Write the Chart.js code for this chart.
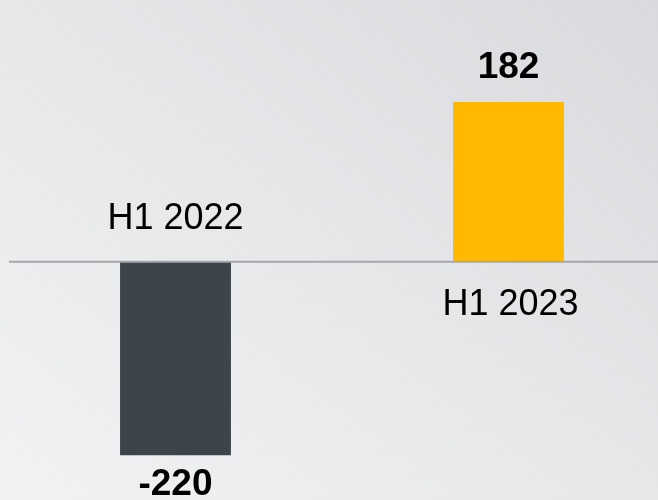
<!DOCTYPE html>
<html>
<head>
<meta charset="utf-8">
<script src="https://cdn.jsdelivr.net/npm/chart.js@4/dist/chart.umd.min.js"></script>
<style>
  html, body { margin: 0; padding: 0; overflow: hidden; }
  body {
    width: 658px; height: 500px;
    background: linear-gradient(to top right, #f2f2f3 0%, #e6e7e9 50%, #d9dadd 100%);
  }
  #wrap { width: 676px; height: 500px; position: relative; }
</style>
</head>
<body>
<div id="wrap"><canvas id="c"></canvas></div>
<script>
const categories = ['H1 2022', 'H1 2023'];
const values = [-220, 182];
const valueLabels = ['-220', '182'];
const barColors = ['#3d454c', '#ffb900'];

// value labels beyond bar end, category labels on the other side of zero
const labelPlugin = {
  id: 'labels',
  afterDatasetsDraw(chart) {
    const { ctx, scales: { x, y }, chartArea } = chart;
    const zero = y.getPixelForValue(0);
    ctx.save();
    ctx.strokeStyle = '#a3a6ab';
    ctx.lineWidth = 2;
    ctx.beginPath();
    ctx.moveTo(chartArea.left, zero);
    ctx.lineTo(chartArea.right, zero);
    ctx.stroke();

    ctx.fillStyle = '#000';
    ctx.textAlign = 'center';
    values.forEach((v, i) => {
      const cx = x.getPixelForValue(i);
      const end = y.getPixelForValue(v);
      ctx.font = 'bold 37px "Liberation Sans", Arial, sans-serif';
      if (v >= 0) {
        ctx.textBaseline = 'bottom';
        ctx.fillText(valueLabels[i], cx, end - 16);
      } else {
        ctx.textBaseline = 'top';
        ctx.fillText(valueLabels[i], cx, end + 11);
      }
      ctx.font = '36px "Liberation Sans", Arial, sans-serif';
      if (v >= 0) {
        ctx.textBaseline = 'top';
        ctx.fillText(categories[i], cx + 2, zero + 25);
      } else {
        ctx.textBaseline = 'bottom';
        ctx.fillText(categories[i], cx, zero - 25);
      }
    });
    ctx.restore();
  }
};

new Chart(document.getElementById('c'), {
  type: 'bar',
  data: {
    labels: categories,
    datasets: [{
      data: values,
      backgroundColor: barColors,
      borderWidth: 0,
      barPercentage: 1,
      categoryPercentage: 0.333
    }]
  },
  options: {
    responsive: true,
    maintainAspectRatio: false,
    animation: false,
    layout: { padding: { left: 9, right: 1, top: 0, bottom: 0 } },
    plugins: { legend: { display: false }, tooltip: { enabled: false } },
    scales: {
      x: { display: false, grid: { display: false } },
      y: { display: false, min: -271, max: 298, grid: { display: false } }
    }
  },
  plugins: [labelPlugin]
});
</script>
</body>
</html>
